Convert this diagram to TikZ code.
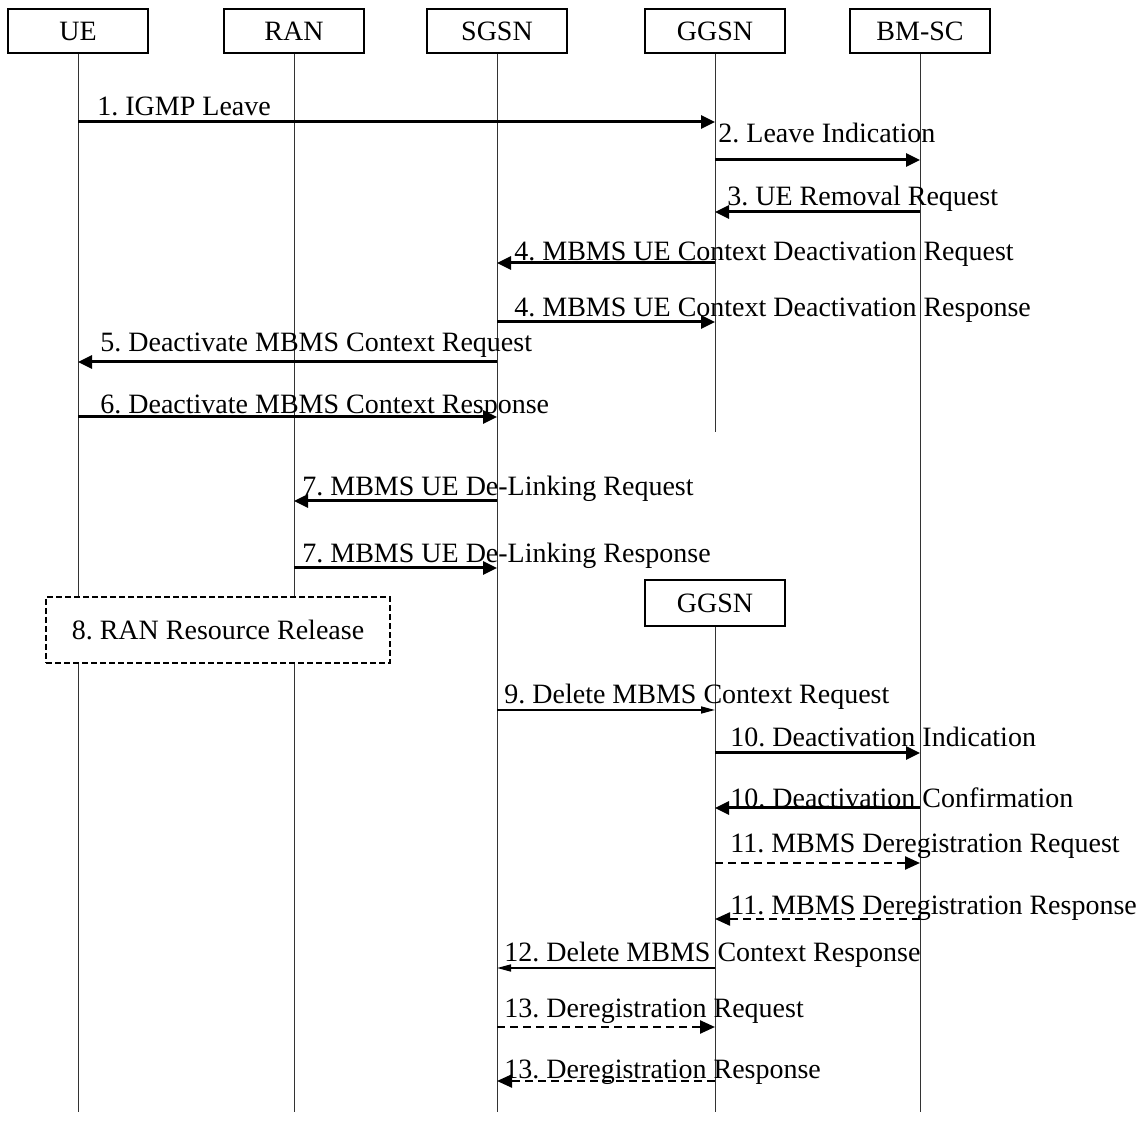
\documentclass[tikz,border=0pt]{standalone}
\usepackage{fontspec}
\setmainfont{Liberation Serif}
\usetikzlibrary{
  arrows.meta,
  positioning
}
\frenchspacing

\begin{document}
\begin{tikzpicture}[
      x=0.5pt, y=-0.5pt,
      every node/.style={font=\fontsize{14pt}{16pt}\selectfont},
      entity/.style={
         rectangle,
         draw=black,
         line width=0.7pt,
         minimum width=70pt,
         minimum height=22pt,
         inner sep=0pt
      },
      procedure/.style={
         rectangle,
         draw=black,
         fill=white,
         line width=1.4pt,
         dash pattern=on 3pt off 1.5pt,
         minimum width=172pt,
         minimum height=33pt
      },
      msgtext/.style={anchor=base west, inner sep=0pt},
      life/.style={line width=0.5pt, draw=black!80},
      msg/.style={-{Triangle[length=7pt,width=6.5pt]}, line width=1.5pt},
      thinmsg/.style={-{Triangle[length=7pt,width=3.5pt]}, line width=0.8pt},
      optmsg/.style={-{Triangle[length=7.5pt,width=6.5pt]}, line width=1.2pt,
         dash pattern=on 4pt off 2.5pt},
    ]
    \useasboundingbox[fill=white] (0,0) rectangle (1136,1122);
    % entities
    \node (ue)   [entity] at (78,31)  {UE};
    \node (ran)  [entity] at (294,31) {RAN};
    \node (sgsn) [entity] at (497,31) {SGSN};
    \node (ggsn) [entity] at (715,31) {GGSN};
    \node (bmsc) [entity] at (920,31) {BM-SC};
    \node (ggsn2) [entity, minimum height=23pt] at (715,603) {GGSN};
    \coordinate (ue end)   at (78,1112);
    \coordinate (ran end)  at (294,1112);
    \coordinate (sgsn end) at (497,1112);
    \coordinate (ggsn cut) at (715,432);
    \coordinate (ggsn end) at (715,1112);
    \coordinate (bmsc end) at (920,1112);
    % life lines
    \draw[life] (ue.south) -- (ue end);
    \draw[life] (ran.south) -- (ran end);
    \draw[life] (sgsn.south) -- (sgsn end);
    \draw[life] (ggsn.south) -- (ggsn cut);
    \draw[life] (ggsn2.south) -- (ggsn end);
    \draw[life] (bmsc.south) -- (bmsc end);
    \node (release) [procedure] at (218,630) {8. RAN Resource Release};
    % messages
    \draw[msg] (ue |- 0,122) -- (ggsn |- 0,122);
    \node (t1) [msgtext] at (97,116) {1. IGMP Leave};
    \draw[msg] (ggsn |- 0,160) -- (bmsc |- 0,160);
    \node (t2) [msgtext] at (718,143) {2. Leave Indication};
    \draw[msg] (bmsc |- 0,212) -- (ggsn |- 0,212);
    \node (t3) [msgtext] at (727,206) {3. UE Removal Request};
    \draw[msg] (ggsn |- 0,263) -- (sgsn |- 0,263);
    \node (t4a) [msgtext] at (514,261) {4. MBMS UE Context Deactivation Request};
    \draw[msg] (sgsn |- 0,322) -- (ggsn |- 0,322);
    \node (t4b) [msgtext] at (514,317) {4. MBMS UE Context Deactivation Response};
    \draw[msg] (sgsn |- 0,362) -- (ue |- 0,362);
    \node (t5) [msgtext] at (100,352) {5. Deactivate MBMS Context Request};
    \draw[msg] (ue |- 0,417) -- (sgsn |- 0,417);
    \node (t6) [msgtext] at (100,414) {6. Deactivate MBMS Context Response};
    \draw[msg] (sgsn |- 0,501) -- (ran |- 0,501);
    \node (t7a) [msgtext] at (302,496) {7. MBMS UE De-Linking Request};
    \draw[msg] (ran |- 0,568) -- (sgsn |- 0,568);
    \node (t7b) [msgtext] at (302,563) {7. MBMS UE De-Linking Response};
    \draw[thinmsg] (sgsn |- 0,710) -- (ggsn2 |- 0,710);
    \node (t9) [msgtext] at (504,704) {9. Delete MBMS Context Request};
    \draw[msg] (ggsn2 |- 0,753) -- (bmsc |- 0,753);
    \node (t10a) [msgtext] at (730,747) {10. Deactivation Indication};
    \draw[msg] (bmsc |- 0,808) -- (ggsn2 |- 0,808);
    \node (t10b) [msgtext] at (730,807) {10. Deactivation Confirmation};
    \draw[optmsg] (ggsn2 |- 0,863) -- (bmsc |- 0,863);
    \node (t11a) [msgtext] at (730,852) {11. MBMS Deregistration Request};
    \draw[optmsg] (bmsc |- 0,919) -- (ggsn2 |- 0,919);
    \node (t11b) [msgtext] at (730,914) {11. MBMS Deregistration Response};
    \draw[thinmsg] (ggsn2 |- 0,968) -- (sgsn |- 0,968);
    \node (t12) [msgtext] at (504,961) {12. Delete MBMS Context Response};
    \draw[optmsg] (sgsn |- 0,1027) -- (ggsn2 |- 0,1027);
    \node (t13a) [msgtext] at (504,1017) {13. Deregistration Request};
    \draw[optmsg] (ggsn2 |- 0,1081) -- (sgsn |- 0,1081);
    \node (t13b) [msgtext] at (504,1078) {13. Deregistration Response};
\end{tikzpicture}
\end{document}
